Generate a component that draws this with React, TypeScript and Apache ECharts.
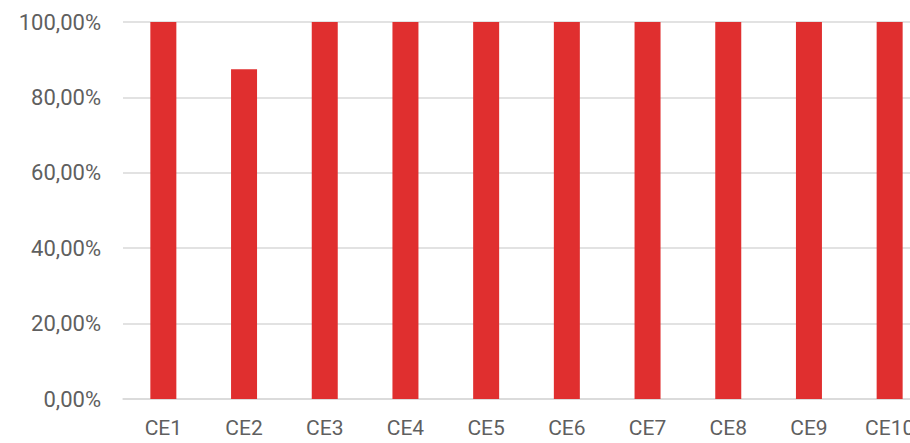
import React, { useEffect, useRef } from "react";
import * as echarts from "echarts";

const categories = ["CE1", "CE2", "CE3", "CE4", "CE5", "CE6", "CE7", "CE8", "CE9", "CE10"];
const values = [100, 87.5, 100, 100, 100, 100, 100, 100, 100, 100];
const yTicks = { min: 0, max: 100, interval: 20 };

export default function App() {
  const ref = useRef<HTMLDivElement>(null);
  useEffect(() => {
    if (!ref.current) return;
    const chart = echarts.init(ref.current, undefined, { renderer: "svg" });
    chart.setOption({
      animation: false,
      backgroundColor: "#ffffff",
      grid: { left: 123, right: 0, top: 22, bottom: 44, containLabel: false },
      xAxis: {
        type: "category",
        data: categories,
        axisTick: { show: false },
        axisLine: { lineStyle: { color: "#d9d9d9", width: 1.5 } },
        axisLabel: {
          color: "#5f5f5f",
          fontFamily: "Roboto",
          fontSize: 21,
          margin: 18,
        },
      },
      yAxis: {
        type: "value",
        min: yTicks.min,
        max: yTicks.max,
        interval: yTicks.interval,
        axisLine: { show: false },
        axisTick: { show: false },
        splitLine: { lineStyle: { color: "#d9d9d9", width: 1.5 } },
        axisLabel: {
          color: "#5f5f5f",
          fontFamily: "Roboto",
          fontSize: 22,
          margin: 22,
          formatter: (v: number) => v.toFixed(2).replace(".", ",") + "%",
        },
      },
      series: [
        {
          type: "bar",
          data: values,
          barWidth: 26,
          itemStyle: { color: "#e02f2f" },
        },
      ],
    });
    return () => chart.dispose();
  }, []);
  return (
    <div
      ref={ref}
      style={{ position: "fixed", left: 0, top: 0, width: 930, height: 443 }}
    />
  );
}
